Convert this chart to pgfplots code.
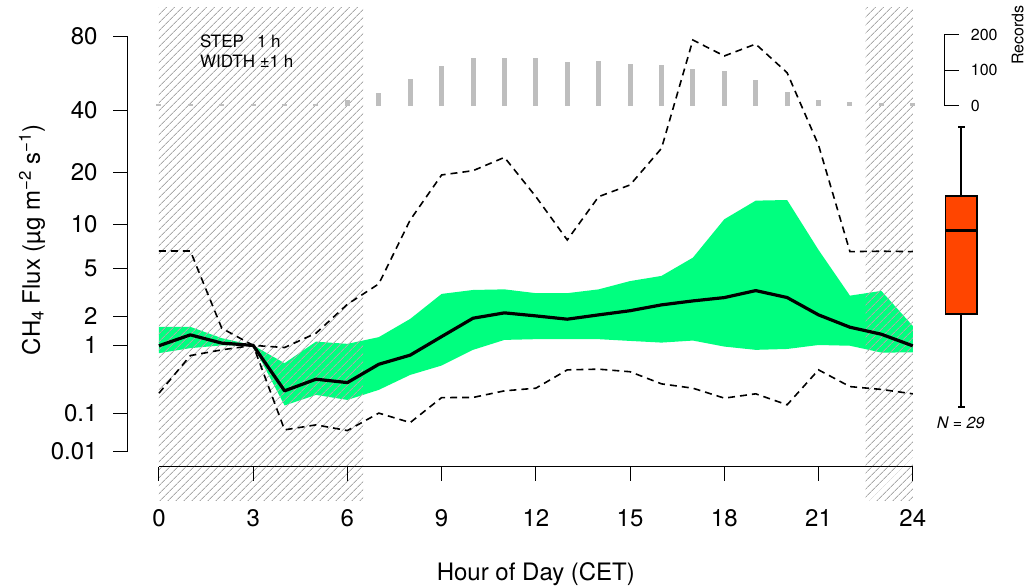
\documentclass[border=0pt]{standalone}
\usepackage{fontspec}
\setmainfont{TeX Gyre Heros}
\usepackage{pgfplots}
\pgfplotsset{compat=1.18}
\usepackage{pgfplotstable}
\usepgfplotslibrary{fillbetween}
\usetikzlibrary{patterns.meta}

\definecolor{bandgreen}{RGB}{0,255,127}
\definecolor{boxred}{RGB}{255,69,0}
\definecolor{recgray}{RGB}{190,190,190}
\definecolor{hatchgray}{RGB}{170,170,170}

% hourly CH4 flux statistics (ug m-2 s-1) and number of records per hour
\pgfplotstableread{
h  lo     q1     med    q3     hi     n
0  0.229  0.814  0.99   1.57   6.69   6
1  0.762  0.93   1.30   1.57   6.69   6
2  0.889  1.00   1.06   1.20   1.52   6
3  1.00   1.00   1.00   1.00   1.00   6
4  0.0432 0.141  0.25   0.614  0.945  6
5  0.0567 0.215  0.374  1.10   1.353  6
6  0.0415 0.177  0.334  1.04   2.56   15
7  0.101  0.259  0.595  1.23   3.8    37
8  0.064  0.430  0.771  1.878  10.69  76
9  0.194  0.573  1.247  3.144  19.37  111
10 0.195  0.889  1.907  3.39   20.4   136
11 0.25   1.149  2.14   3.43   23.9   134
12 0.275  1.17   2.005  3.19   14.7   134
13 0.503  1.17   1.866  3.19   7.95   123
14 0.514  1.17   2.05   3.43   14.7   125
15 0.475  1.12   2.24   4.0    17.1   119
16 0.32   1.074  2.528  4.39   26.5   114
17 0.275  1.13   2.739  6.0    77.5   105
18 0.19   0.969  2.926  10.79  67.3   97
19 0.224  0.889  3.35   13.94  74.8   72
20 0.145  0.91   2.93   14.06  57.7   39
21 0.503  1.01   2.05   6.8    27.5   15
22 0.291  0.99   1.557  3.04   6.62   9
23 0.263  0.827  1.32   3.33   6.66   7
24 0.224  0.83   0.988  1.605  6.62   7
}\hourly

% overall distribution (N = 29)
\pgfplotstableread{
x     v
25.05 2.09
26.05 2.09
26.05 14.84
25.05 14.84
}\boxbody
\pgfplotstableread{
x     v
25.55 0.135
25.55 2.09
}\whisklo
\pgfplotstableread{
x     v
25.55 14.84
25.55 33.7
}\whiskhi
\pgfplotstableread{
x     v
25.05 9.11
26.05 9.11
}\boxmed
\pgfplotstableread{
x     v
25.45 0.135
25.65 0.135
}\caplo
\pgfplotstableread{
x     v
25.45 33.7
25.65 33.7
}\caphi

\newcommand\ticksize{\fontsize{24}{28}\selectfont}
\newcommand\smallsize{\fontsize{17}{20}\selectfont}

\pgfplotsset{
  panel/.style={
    at={(159pt,84.2pt)}, anchor=south west,
    width=754pt, height=492.8pt, scale only axis,
    xmin=0, xmax=24, hide axis, clip=false,
  },
  night/.style={draw=none,
    pattern={Lines[angle=45,distance=5.4pt,line width=0.9pt]},
    pattern color=hatchgray},
}

\begin{document}
\begin{tikzpicture}
\path (0,0) rectangle (1027pt,585pt);

% night hours (fourth-root flux scale)
\begin{axis}[panel, ymin=0, ymax=3.173]
  \addplot[night] coordinates {(0,0) (6.5,0) (6.5,3.173) (0,3.173)} -- cycle;
  \addplot[night] coordinates {(22.5,0) (24,0) (24,3.173) (22.5,3.173)} -- cycle;
\end{axis}

% records per hour
\begin{axis}[panel, ymin=-1117.7, ymax=276.4]
  \addplot[ycomb, draw=recgray, line width=5pt] table[x=h, y=n] {\hourly};
\end{axis}

% scale of the records bars
\draw[line width=1pt] (944.5pt,479.3pt) -- (944.5pt,550pt);
\foreach \r/\yy in {0/479.3, 100/514.65, 200/550} {
  \draw[line width=1pt] (944.5pt,\yy pt) -- (959.5pt,\yy pt);
  \node[anchor=west, inner sep=0pt, font=\fontsize{16}{19}\selectfont] at (971pt,\yy pt) {\r};
}

% flux statistics
\begin{axis}[panel, ymin=0, ymax=3.173]
  \addplot[name path=up, draw=none] table[x=h, y expr=\thisrow{q3}^0.25] {\hourly};
  \addplot[name path=dn, draw=none] table[x=h, y expr=\thisrow{q1}^0.25] {\hourly};
  \addplot[bandgreen, draw=none] fill between[of=up and dn];

  \addplot[black, line width=1.6pt, dash pattern=on 7pt off 5pt]
    table[x=h, y expr=\thisrow{hi}^0.25] {\hourly};
  \addplot[black, line width=1.6pt, dash pattern=on 7pt off 5pt]
    table[x=h, y expr=\thisrow{lo}^0.25] {\hourly};
  \addplot[black, line width=3.2pt, line join=round]
    table[x=h, y expr=\thisrow{med}^0.25] {\hourly};

  % box plot of all values
  \addplot[black, line width=2pt] table[x=x, y expr=\thisrow{v}^0.25] {\whisklo};
  \addplot[black, line width=2pt] table[x=x, y expr=\thisrow{v}^0.25] {\whiskhi};
  \addplot[black, line width=2pt] table[x=x, y expr=\thisrow{v}^0.25] {\caplo};
  \addplot[black, line width=2pt] table[x=x, y expr=\thisrow{v}^0.25] {\caphi};
  \addplot[fill=boxred, draw=black, line width=1.3pt]
    table[x=x, y expr=\thisrow{v}^0.25] {\boxbody} -- cycle;
  \addplot[black, line width=3pt] table[x=x, y expr=\thisrow{v}^0.25] {\boxmed};

  \pgfplotsextra{
    % y axis (fourth-root scale)
    \draw[line width=1pt] (axis cs:-0.987,0.3162) -- (axis cs:-0.987,2.9907);
    \foreach \t/\l in {0.3162/0.01, 0.5623/0.1, 1/1, 1.1892/2, 1.4953/5,
                       1.7783/10, 2.1147/20, 2.5149/40, 2.9907/80} {
      \draw[line width=1pt] (axis cs:-0.987,\t) -- ++(-15pt,0)
        node[anchor=east, inner sep=0pt, xshift=-15pt, font=\ticksize] {\l};
    }
    % x axis
    \draw[line width=1pt] (axis cs:0,0.2176) -- (axis cs:24,0.2176);
    \foreach \x in {0,3,...,24} {
      \draw[line width=1pt] (axis cs:\x,0.2176) -- ++(0,-14pt);
      \path (axis cs:\x,0.2176) ++(0,-60pt) node[anchor=base, inner sep=0pt, font=\ticksize] {\x};
    }
  }
\end{axis}

% titles and annotations
\node[rotate=90, anchor=center, font=\ticksize] at (32pt,345pt)
  {CH\textsubscript{4} Flux (µg m\textsuperscript{−2} s\textsuperscript{−1})};
\node[anchor=base, inner sep=0pt, font=\ticksize] at (536pt,4.5pt) {Hour of Day (CET)};
\node[anchor=base west, inner sep=0pt, font=\smallsize] at (200pt,537pt)
  {STEP\hspace{13pt}1 h};
\node[anchor=base west, inner sep=0pt, font=\smallsize] at (200pt,517pt) {WIDTH ±1 h};
\node[rotate=90, anchor=center, font=\fontsize{16}{19}\selectfont] at (1018pt,550pt) {Records};
\node[anchor=base, inner sep=0pt, font=\fontsize{16}{19}\selectfont\itshape] at (961pt,156.3pt) {N = 29};
\end{tikzpicture}
\end{document}
